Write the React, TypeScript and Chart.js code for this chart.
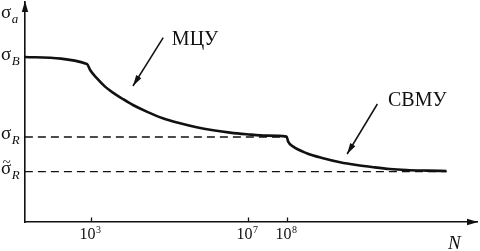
import React, { useEffect, useRef } from "react";
import { Chart, registerables } from "chart.js";

Chart.register(...registerables);

// x values are log10(N); y values are stress in arbitrary units
const curveX = [1.33, 2.91, 2.99, 3.16, 3.37, 3.57, 3.83, 4.08, 4.43, 4.84, 5.28, 5.7, 6.12, 6.55, 6.97, 7.48, 7.99, 8.03, 8.16, 8.5, 8.92, 9.35, 9.77, 10.2, 10.62, 11.04, 11.55, 12.06];
const curveY = [82.5, 79.0, 76.0, 71.9, 67.7, 64.7, 61.4, 58.5, 55.2, 51.9, 49.4, 47.4, 45.9, 44.7, 43.9, 43.2, 42.7, 40.2, 37.7, 34.4, 31.9, 29.9, 28.5, 27.4, 26.5, 26.0, 25.7, 25.5];

const sigmaB = 82.5;
const sigmaR = 42.5;
const sigmaRt = 25.2;
const sigmaRX = [1.33, 8.0];
const sigmaRtX = [1.33, 12.06];

const tickValues = [3, 7, 8];
const tickExponents = ["3", "7", "8"];

const arrowMcuX = [4.85, 4.08];
const arrowMcuY = [92.2, 68.0];
const arrowSvmuX = [10.3, 9.53];
const arrowSvmuY = [59.0, 34.0];

const labelMcu = { text: "МЦУ", x: 5.07, y: 88.5 };
const labelSvmu = { text: "СВМУ", x: 10.57, y: 58.0 };

const X_MIN = 1.333;
const X_MAX = 12.835;
const Y_MIN = 0;
const Y_MAX = 110;

const INK = "#111";
const SERIF = '"Liberation Serif", "DejaVu Serif", serif';

function pts(xs: number[], ys: number[]) {
  return xs.map((x, i) => ({ x, y: ys[i] }));
}

function arrowHead(ctx: CanvasRenderingContext2D, fx: number, fy: number, tx: number, ty: number, len: number, half: number) {
  const a = Math.atan2(ty - fy, tx - fx);
  const bx = tx - len * Math.cos(a);
  const by = ty - len * Math.sin(a);
  const nx = -Math.sin(a) * half;
  const ny = Math.cos(a) * half;
  ctx.beginPath();
  ctx.moveTo(tx, ty);
  ctx.lineTo(bx + nx, by + ny);
  ctx.lineTo(bx - nx, by - ny);
  ctx.closePath();
  ctx.fill();
}

function sigmaLabel(ctx: CanvasRenderingContext2D, x: number, baseline: number, sub: string, tilde: boolean) {
  ctx.textAlign = "left";
  ctx.textBaseline = "alphabetic";
  ctx.font = `19px ${SERIF}`;
  ctx.fillText("σ", x, baseline);
  const w = ctx.measureText("σ").width;
  if (tilde) {
    ctx.font = `15px ${SERIF}`;
    ctx.fillText("~", x + 1.5, baseline - 7);
  }
  ctx.font = `italic 13px ${SERIF}`;
  ctx.fillText(sub, x + w + 0.5, baseline + 5);
}

const annotate = {
  id: "annotate",
  afterDraw(chart: any) {
    const ctx: CanvasRenderingContext2D = chart.ctx;
    const xs = chart.scales.x;
    const ys = chart.scales.y;
    const { left, right, top, bottom } = chart.chartArea;
    ctx.save();
    ctx.fillStyle = INK;
    ctx.strokeStyle = INK;

    // axis arrowheads
    arrowHead(ctx, left, bottom, left, top - 1, 11, 3.2);
    arrowHead(ctx, left, bottom, right + 1, bottom, 11, 3.2);

    // inward tick marks and labels
    ctx.lineWidth = 1.3;
    tickValues.forEach((v, i) => {
      const px = Math.round(xs.getPixelForValue(v)) + 0.5;
      ctx.beginPath();
      ctx.moveTo(px, bottom);
      ctx.lineTo(px, bottom - 4.5);
      ctx.stroke();
      ctx.textBaseline = "alphabetic";
      ctx.textAlign = "right";
      ctx.font = `16px ${SERIF}`;
      ctx.fillText("10", px + 4, bottom + 17);
      ctx.textAlign = "left";
      ctx.font = `10px ${SERIF}`;
      ctx.fillText(tickExponents[i], px + 4.5, bottom + 11);
    });

    // axis name N
    ctx.font = `italic 19px ${SERIF}`;
    ctx.textAlign = "left";
    ctx.fillText("N", right - 29, bottom + 27);

    // y-axis labels
    sigmaLabel(ctx, 1, top + 16, "a", false);
    sigmaLabel(ctx, 1, ys.getPixelForValue(sigmaB) + 3, "B", false);
    sigmaLabel(ctx, 1, ys.getPixelForValue(sigmaR) + 1.5, "R", false);
    sigmaLabel(ctx, 1, ys.getPixelForValue(sigmaRt) + 2.5, "R", true);

    // arrowheads of callout arrows
    chart.data.datasets.forEach((ds: any) => {
      if (!ds.isArrow) return;
      const d = ds.data;
      const a = d[d.length - 2];
      const b = d[d.length - 1];
      arrowHead(ctx, xs.getPixelForValue(a.x), ys.getPixelForValue(a.y), xs.getPixelForValue(b.x), ys.getPixelForValue(b.y), 11, 3);
    });

    // callout labels
    ctx.font = `20px ${SERIF}`;
    ctx.textAlign = "left";
    ctx.textBaseline = "alphabetic";
    [labelMcu, labelSvmu].forEach((l) => {
      ctx.fillText(l.text, xs.getPixelForValue(l.x), ys.getPixelForValue(l.y));
    });

    ctx.restore();
  },
};

export default function App() {
  const ref = useRef<HTMLCanvasElement | null>(null);

  useEffect(() => {
    if (!ref.current) return;
    const chart = new Chart(ref.current, {
      type: "line",
      data: {
        datasets: [
          {
            data: pts(curveX, curveY),
            borderColor: INK,
            borderWidth: 2.6,
            pointRadius: 0,
            cubicInterpolationMode: "monotone",
            fill: false,
          },
          {
            data: pts(sigmaRX, sigmaRX.map(() => sigmaR)),
            borderColor: INK,
            borderWidth: 1.4,
            borderDash: [8, 5],
            pointRadius: 0,
            fill: false,
          },
          {
            data: pts(sigmaRtX, sigmaRtX.map(() => sigmaRt)),
            borderColor: INK,
            borderWidth: 1.4,
            borderDash: [8, 5],
            pointRadius: 0,
            fill: false,
          },
          {
            data: pts(arrowMcuX, arrowMcuY),
            borderColor: INK,
            borderWidth: 1.5,
            pointRadius: 0,
            fill: false,
            isArrow: true,
          } as any,
          {
            data: pts(arrowSvmuX, arrowSvmuY),
            borderColor: INK,
            borderWidth: 1.5,
            pointRadius: 0,
            fill: false,
            isArrow: true,
          } as any,
        ],
      },
      options: {
        animation: false,
        responsive: false,
        devicePixelRatio: 1,
        parsing: false as any,
        layout: { padding: { top: 2, right: 3, left: 0, bottom: 0 } },
        plugins: {
          legend: { display: false },
          tooltip: { enabled: false },
        },
        events: [],
        scales: {
          x: {
            type: "linear",
            min: X_MIN,
            max: X_MAX,
            grid: { display: false, drawTicks: false },
            border: { display: true, color: INK, width: 1.6 },
            ticks: { display: false },
            afterFit: (s: any) => {
              s.height = 29;
            },
          },
          y: {
            type: "linear",
            min: Y_MIN,
            max: Y_MAX,
            grid: { display: false, drawTicks: false },
            border: { display: true, color: INK, width: 1.6 },
            ticks: { display: false },
            afterFit: (s: any) => {
              s.width = 25;
            },
          },
        },
      },
      plugins: [annotate],
    });
    return () => chart.destroy();
  }, []);

  return (
    <div style={{ position: "fixed", left: 0, top: 0, width: 480, height: 251, background: "#fff" }}>
      <canvas ref={ref} width={480} height={251} style={{ display: "block", width: 480, height: 251 }} />
    </div>
  );
}
